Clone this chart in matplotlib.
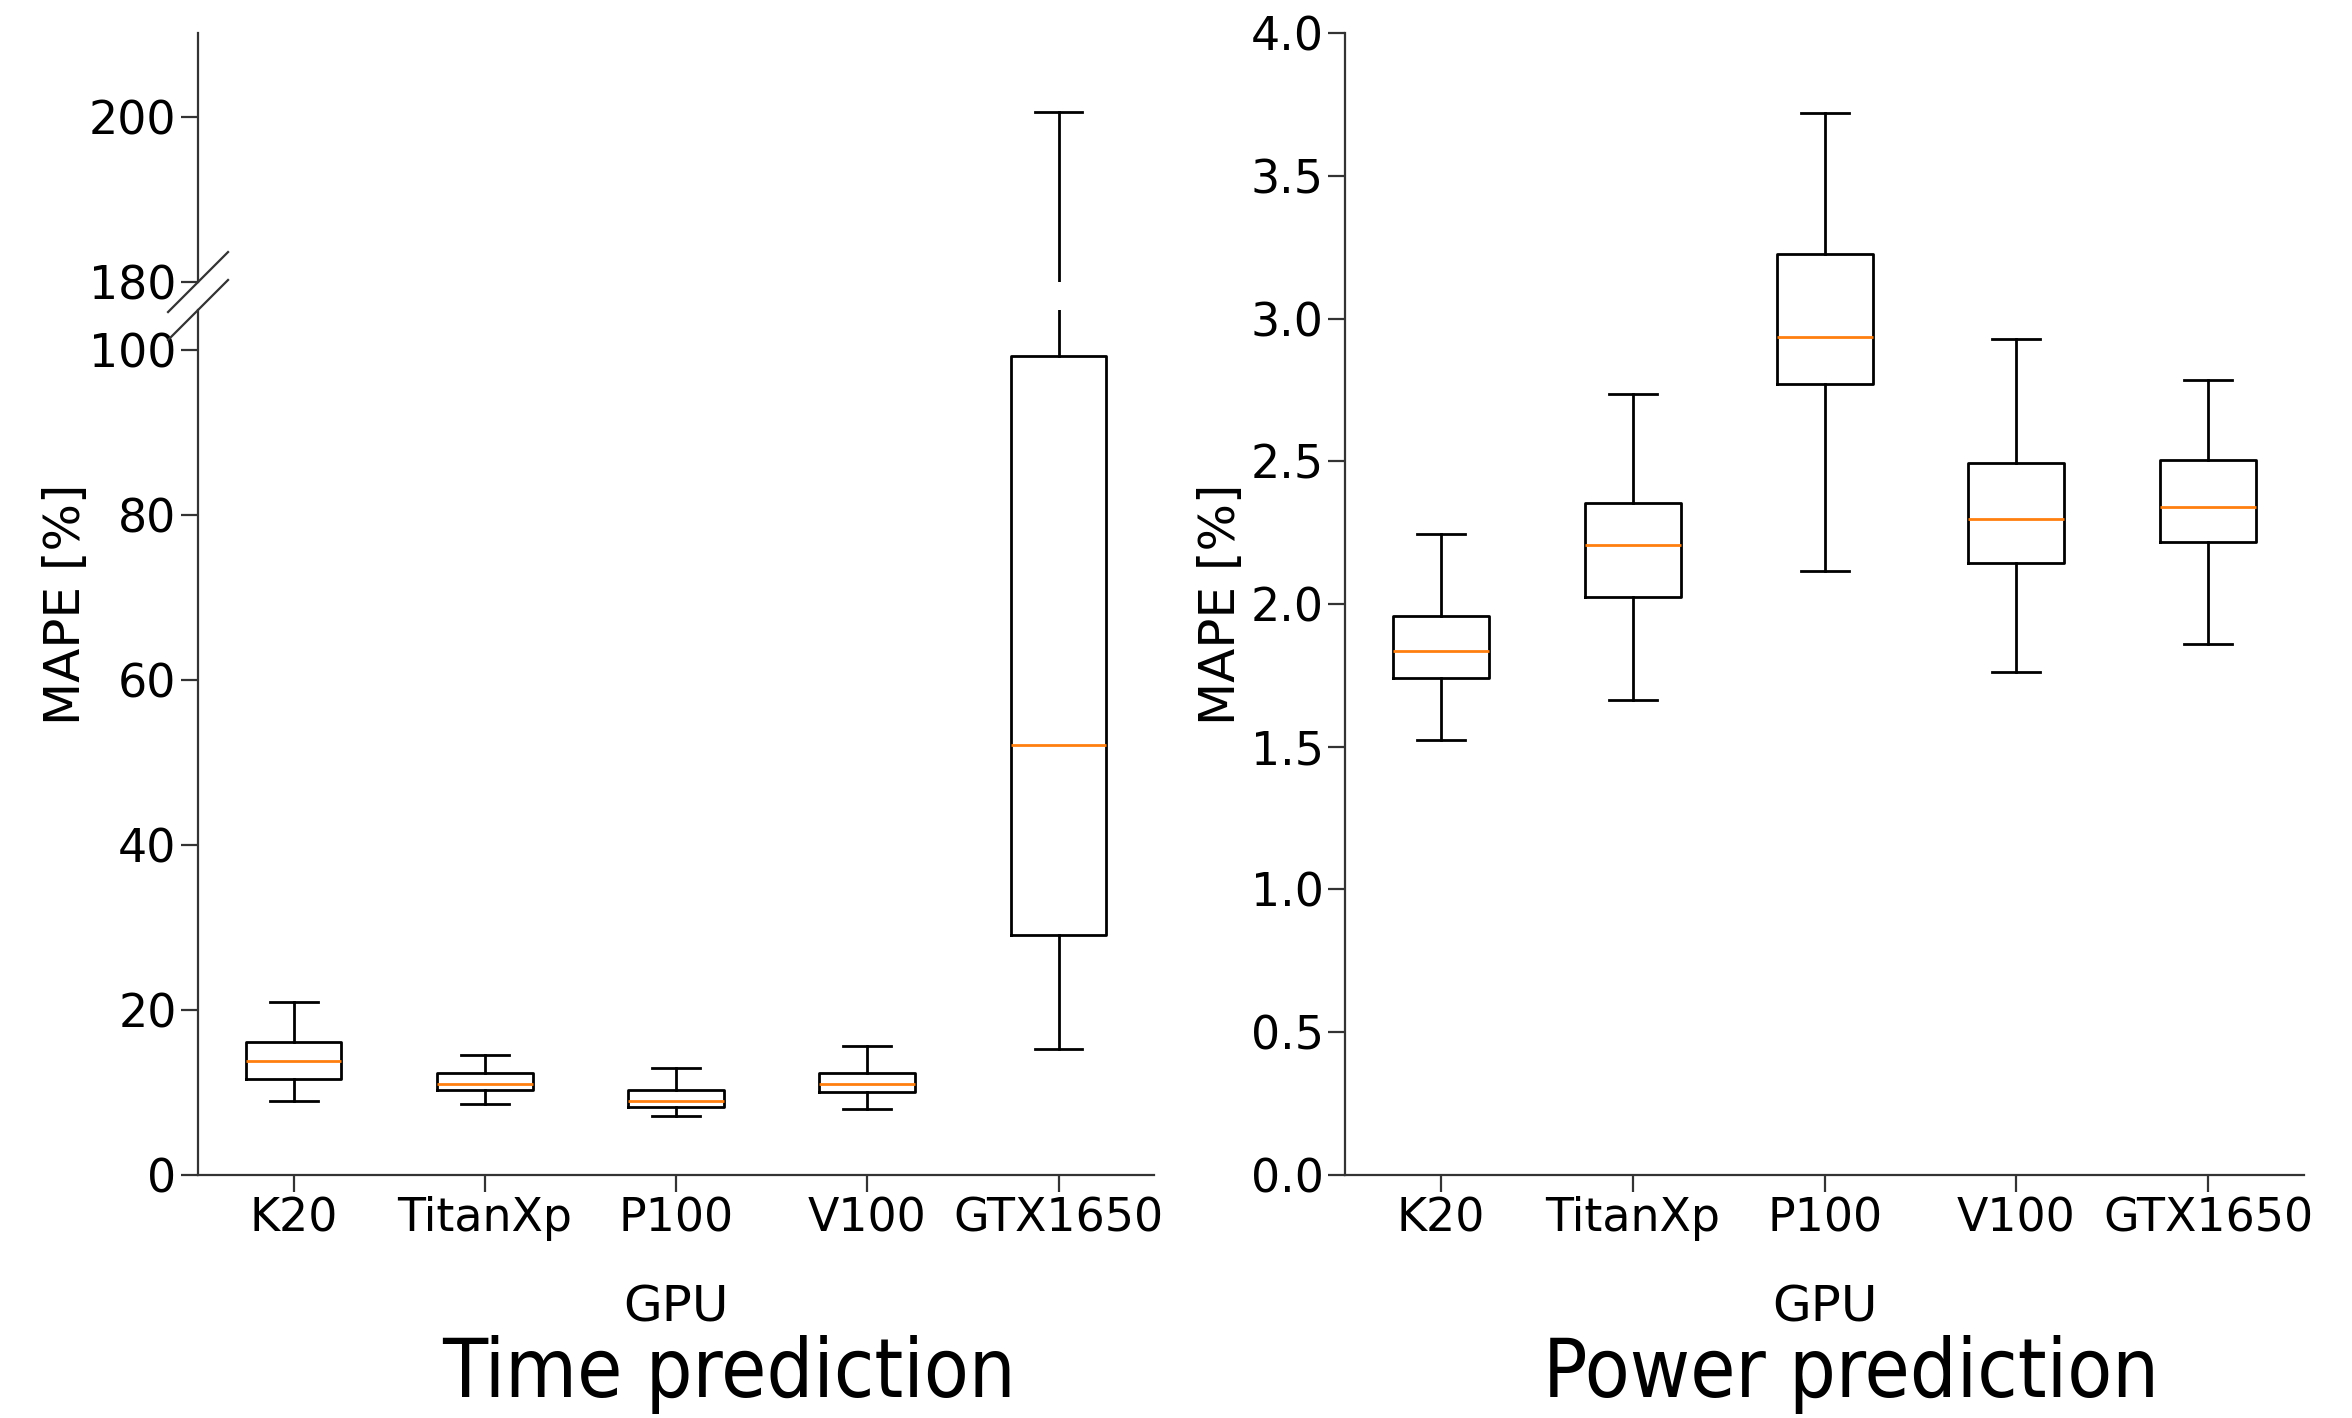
import numpy as np
import matplotlib
matplotlib.use('Agg')
import matplotlib.pyplot as plt

gpus = ['K20', 'TitanXp', 'P100', 'V100', 'GTX1650']

# Time prediction MAPE [%]
time_whislo = [8.9, 8.6, 7.2, 8.0, 15.3]
time_q1 = [11.6, 10.3, 8.2, 10.0, 29.1]
time_med = [13.8, 11.0, 8.9, 11.0, 52.1]
time_q3 = [16.1, 12.3, 10.3, 12.4, 99.2]
time_whishi = [21.0, 14.5, 13.0, 15.6, 200.6]

# Power prediction MAPE [%]
power_whislo = [1.525, 1.664, 2.115, 1.763, 1.861]
power_q1 = [1.74, 2.025, 2.772, 2.142, 2.216]
power_med = [1.836, 2.205, 2.936, 2.296, 2.339]
power_q3 = [1.957, 2.353, 3.225, 2.493, 2.503]
power_whishi = [2.245, 2.735, 3.72, 2.929, 2.783]


def make_stats(lo, q1, med, q3, hi):
    stats = []
    for i in range(len(gpus)):
        stats.append(dict(label=gpus[i], whislo=lo[i], q1=q1[i], med=med[i],
                          q3=q3[i], whishi=hi[i], fliers=[]))
    return stats


lw = 2.0
box_kw = dict(
    boxprops=dict(color='black', linewidth=lw),
    whiskerprops=dict(color='black', linewidth=lw),
    capprops=dict(color='black', linewidth=lw),
    medianprops=dict(color='#ff7f0e', linewidth=lw),
    showfliers=False,
)

plt.rcParams['font.family'] = 'DejaVu Sans'
fig = plt.figure(figsize=(23.52, 14.18), dpi=100)

ax_top = fig.add_axes([0.0842, 0.8011, 0.4065, 0.1756])
ax_bot = fig.add_axes([0.0842, 0.1714, 0.4065, 0.6100])
ax_pow = fig.add_axes([0.5719, 0.1714, 0.4077, 0.8053])

time_stats = make_stats(time_whislo, time_q1, time_med, time_q3, time_whishi)
power_stats = make_stats(power_whislo, power_q1, power_med, power_q3, power_whishi)

ax_top.bxp(time_stats, **box_kw)
ax_bot.bxp(time_stats, **box_kw)
ax_pow.bxp(power_stats, **box_kw)

ax_top.set_ylim(180, 210.2)
ax_top.set_yticks([180, 200])
ax_bot.set_ylim(0, 104.8)
ax_bot.set_yticks([0, 20, 40, 60, 80, 100])
ax_pow.set_ylim(0, 4.0)
ax_pow.set_yticks(np.arange(0, 4.01, 0.5))

for ax in (ax_top, ax_bot, ax_pow):
    ax.set_xlim(0.5, 5.5)
    ax.spines['top'].set_visible(False)
    ax.spines['right'].set_visible(False)
    for s in ('left', 'bottom'):
        ax.spines[s].set_linewidth(1.6)
        ax.spines[s].set_color('#333333')
    ax.tick_params(labelsize=33, length=12, width=1.6, color='#333333')

ax_top.spines['bottom'].set_visible(False)
ax_top.tick_params(axis='x', bottom=False, labelbottom=False)

ax_bot.set_xticklabels(gpus)
ax_pow.set_xticklabels(gpus)
ax_pow.set_yticklabels(['%.1f' % v for v in np.arange(0, 4.01, 0.5)])

ax_bot.set_ylabel('MAPE [%]', fontsize=36)
ax_bot.yaxis.set_label_coords(-0.113, 0.66)
ax_bot.set_xlabel('GPU', fontsize=36, labelpad=30)
ax_pow.set_ylabel('MAPE [%]', fontsize=36)
ax_pow.yaxis.set_label_coords(-0.104, 0.5)
ax_pow.set_xlabel('GPU', fontsize=36, labelpad=30)

# break marks on the left spine
dx = 30 / (0.4065 * 2352)
dy_top = 30 / (0.1756 * 1418)
dy_bot = 30 / (0.61 * 1418)
ax_top.plot([-dx, dx], [-dy_top, dy_top], transform=ax_top.transAxes,
            color='#333333', lw=1.6, clip_on=False)
ax_bot.plot([-dx, dx], [1 - dy_bot, 1 + dy_bot], transform=ax_bot.transAxes,
            color='#333333', lw=1.6, clip_on=False)

title_kw = dict(fontsize=59, ha='center', va='baseline',
                family='DejaVu Sans', fontstretch='condensed')
fig.text(729 / 2352, 1 - 1397 / 1418, 'Time prediction', **title_kw)
fig.text(1851 / 2352, 1 - 1397 / 1418, 'Power prediction', **title_kw)

fig.savefig('out.png', dpi=100)
